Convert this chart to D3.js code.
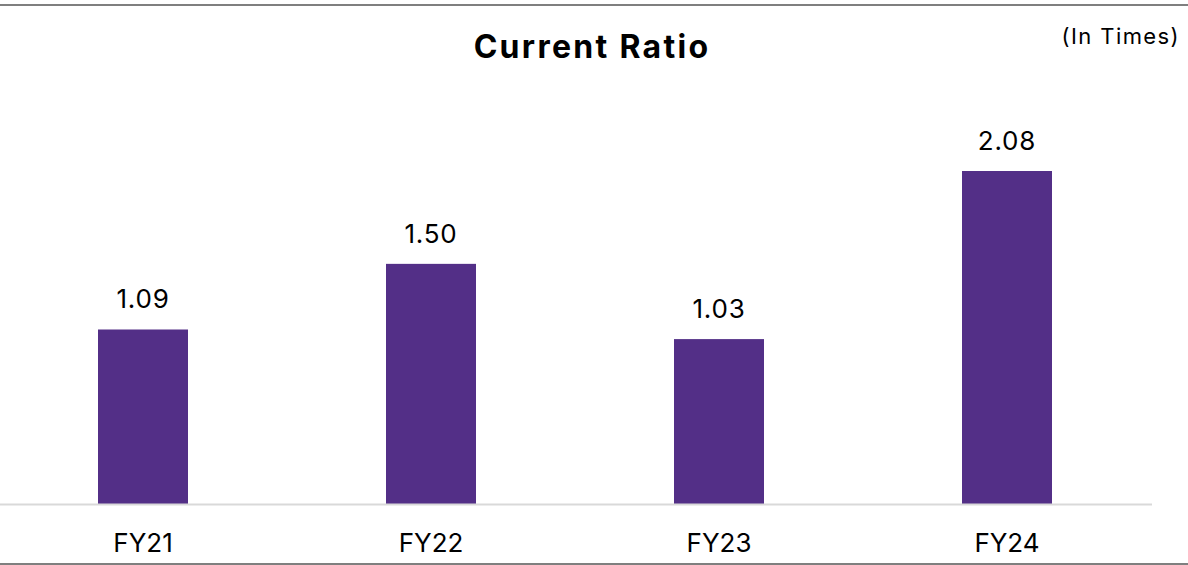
<!DOCTYPE html>
<html>
<head>
<meta charset="utf-8">
<script src="https://cdn.jsdelivr.net/npm/d3@7"></script>
<style>
  body { margin: 0; background: #fff; }
  text { font-family: Inter, "Open Sans", sans-serif; }
</style>
</head>
<body>
<div id="chart"></div>
<script>
// data
var categories = ["FY21", "FY22", "FY23", "FY24"];
var values = [1.09, 1.50, 1.03, 2.08];
var valueLabels = ["1.09", "1.50", "1.03", "2.08"];

var W = 1188, H = 565;
var baseY = 504;

var svg = d3.select("#chart")
  .append("svg")
    .attr("width", W)
    .attr("height", H);

// frame lines top and bottom
svg.append("line")
  .attr("x1", 0).attr("x2", W).attr("y1", 5).attr("y2", 5)
  .attr("stroke", "#7f7f7f").attr("stroke-width", 2);
svg.append("line")
  .attr("x1", 0).attr("x2", W).attr("y1", 564).attr("y2", 564)
  .attr("stroke", "#7f7f7f").attr("stroke-width", 2);

var x = d3.scaleBand()
  .domain(categories)
  .range([-1, 1151])
  .paddingInner(0.6875)
  .paddingOuter(0.34375);

var y = d3.scaleLinear()
  .domain([0, 2.08])
  .range([baseY, 171]);

svg.selectAll(".bar")
  .data(values)
  .enter().append("rect")
    .attr("class", "bar")
    .attr("x", function(d, i) { return x(categories[i]); })
    .attr("y", function(d) { return y(d); })
    .attr("width", x.bandwidth())
    .attr("height", function(d) { return baseY - y(d); })
    .attr("fill", "#532f87");

// baseline
svg.append("line")
  .attr("x1", 0).attr("x2", 1152).attr("y1", baseY + 0.5).attr("y2", baseY + 0.5)
  .attr("stroke", "#d9d9d9").attr("stroke-width", 2);

svg.selectAll(".val")
  .data(values)
  .enter().append("text")
    .attr("class", "val")
    .attr("x", function(d, i) { return x(categories[i]) + x.bandwidth() / 2; })
    .attr("y", function(d) { return y(d) - 21; })
    .attr("text-anchor", "middle")
    .attr("font-size", 26)
    .attr("letter-spacing", 0.8)
    .attr("fill", "#000")
    .text(function(d, i) { return valueLabels[i]; });

// category axis labels
var xAxis = svg.append("g")
  .attr("transform", "translate(0," + baseY + ")")
  .call(d3.axisBottom(x).tickSize(0).tickPadding(30));
xAxis.select(".domain").remove();
xAxis.selectAll("text")
  .attr("font-size", 26)
  .attr("fill", "#000")
  .style("font-family", "Inter, 'Open Sans', sans-serif");

svg.append("text")
  .attr("x", 592).attr("y", 58)
  .attr("text-anchor", "middle")
  .attr("font-size", 32)
  .attr("font-weight", "bold")
  .attr("letter-spacing", 2.3)
  .attr("fill", "#000")
  .text("Current Ratio");

svg.append("text")
  .attr("x", 1180).attr("y", 44)
  .attr("text-anchor", "end")
  .attr("font-size", 22)
  .attr("letter-spacing", 1.4)
  .attr("fill", "#000")
  .text("(In Times)");
</script>
</body>
</html>
